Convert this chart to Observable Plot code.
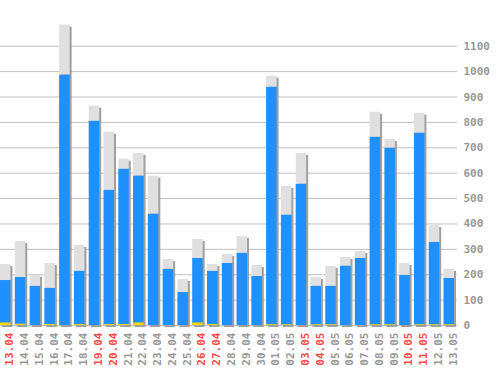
<!DOCTYPE html>
<html>
<head>
<meta charset="utf-8">
<script src="https://cdn.jsdelivr.net/npm/d3@7"></script>
<script src="https://cdn.jsdelivr.net/npm/@observablehq/plot@0.6"></script>
<style>
  html, body { margin: 0; padding: 0; background: #fff; }
</style>
</head>
<body>
<div id="chart"></div>
<script>
const dates = ["13.04","14.04","15.04","16.04","17.04","18.04","19.04","20.04","21.04","22.04","23.04","24.04","25.04","26.04","27.04","28.04","29.04","30.04","01.05","02.05","03.05","04.05","05.05","06.05","07.05","08.05","09.05","10.05","11.05","12.05","13.05"];
const totals = [240,331,198,244,1183,315,864,761,655,678,588,260,181,339,240,280,351,237,982,548,678,189,233,268,292,840,733,244,836,394,221];
const blues = [177,189,154,146,986,213,804,532,615,588,438,221,130,264,213,244,284,193,938,434,556,154,154,233,264,741,698,197,757,327,185];
const yellows = [10,5,0,4,0,4,0,4,4,10,0,0,0,10,4,0,0,0,3,3,0,3,3,0,0,3,3,0,3,3,3];
const redDates = ["13.04","19.04","20.04","26.04","27.04","03.05","04.05","10.05","11.05"];
const yTicks = [0,100,200,300,400,500,600,700,800,900,1000,1100];

const data = dates.map((d, i) => ({date: d, total: totals[i], blue: blues[i], yellow: yellows[i], red: redDates.includes(d)}));

const font = "'DejaVu Sans Mono', monospace";

const chart = Plot.plot({
  width: 498,
  height: 370,
  marginLeft: 0,
  marginRight: 44,
  marginTop: 0,
  marginBottom: 45,
  style: {fontFamily: font, fontSize: "11px", background: "#fff"},
  x: {type: "band", domain: dates, paddingInner: 0.29, paddingOuter: 0, round: false, axis: null},
  y: {domain: [0, 1280], axis: null},
  marks: [
    Plot.ruleY(yTicks, {stroke: "#c0c0c0", strokeWidth: 1, insetRight: -3}),
    Plot.barY(data, {x: "date", y: "total", fill: "#a0a0a0", dx: 2, dy: 2}),
    Plot.barY(data, {x: "date", y1: "blue", y2: "total", fill: "#e0e0e0"}),
    Plot.barY(data, {x: "date", y: "blue", fill: "#1e90ff"}),
    Plot.barY(data.filter(d => d.yellow > 0), {x: "date", y: "yellow", fill: "#ffd700"}),
    Plot.axisY(yTicks, {anchor: "right", tickSize: 0, tickPadding: 9, tickFormat: d => String(d), fill: "#999", fontWeight: "bold", fontSize: 11}),
    Plot.text(data, {x: "date", y: () => 0, text: "date", rotate: -90, textAnchor: "end", dx: 4, dy: 7,
      fill: d => d.red ? "#ff4d4d" : "#999", fontWeight: "bold", fontSize: 11})
  ]
});
document.getElementById("chart").appendChild(chart);
</script>
</body>
</html>
